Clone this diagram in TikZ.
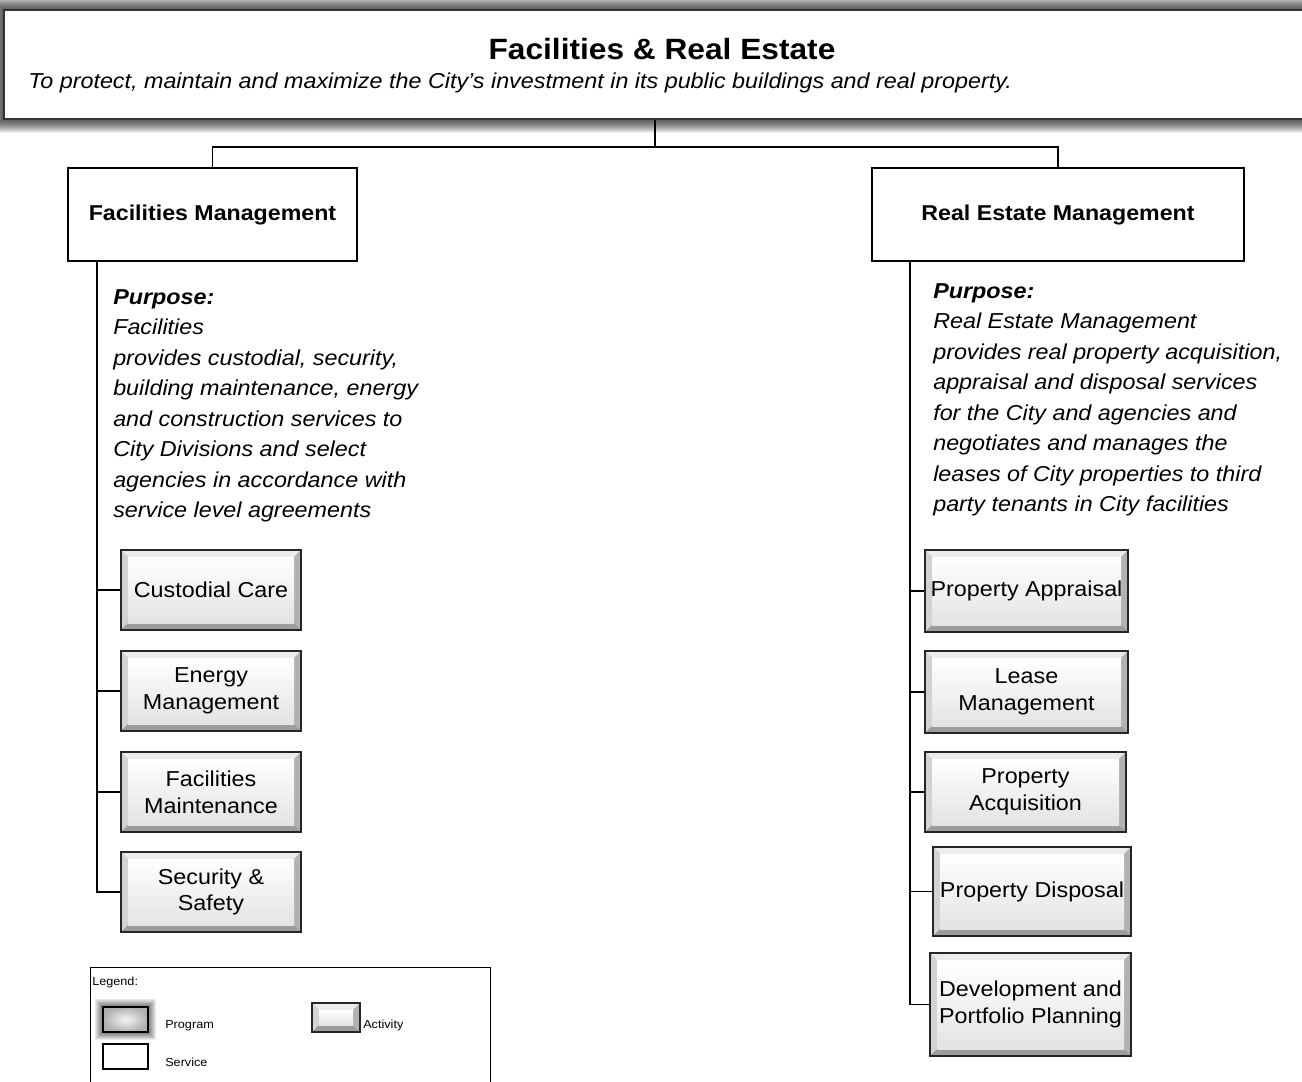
\documentclass[tikz,border=0pt]{standalone}
\usepackage{fontspec}
\setmainfont{Liberation Sans}[FakeStretch=1.08]
\usetikzlibrary{calc}
\begin{document}
\begin{tikzpicture}[x=0.75pt,y=-0.75pt,
  conn/.style={draw=black, line width=1.1pt},
  service/.style={draw=black, line width=0.8pt, fill=white, inner sep=0pt,
    font=\bfseries\fontsize{16.1}{19}\selectfont},
  activity/.style={draw=black!85, line width=1pt, inner sep=0pt, align=center,
    font=\fontsize{16.2}{20}\selectfont,
    path picture={
      \path (path picture bounding box.north west) coordinate (bnw)
            (path picture bounding box.north east) coordinate (bne)
            (path picture bounding box.south west) coordinate (bsw)
            (path picture bounding box.south east) coordinate (bse);
      \fill[gray!60] (bnw) rectangle (bse);
      \fill[gray!15] (bnw) -- (bne) -- ($(bne)+(-5.25pt,-5.25pt)$) -- ($(bnw)+(5.25pt,-5.25pt)$) -- cycle;
      \fill[gray!35] (bnw) -- ($(bnw)+(5.25pt,-5.25pt)$) -- ($(bsw)+(5.25pt,5.25pt)$) -- (bsw) -- cycle;
      \fill[gray!60] (bne) -- (bse) -- ($(bse)+(-5.25pt,5.25pt)$) -- ($(bne)+(-5.25pt,-5.25pt)$) -- cycle;
      \fill[gray!78] (bsw) -- (bse) -- ($(bse)+(-5.25pt,5.25pt)$) -- ($(bsw)+(5.25pt,5.25pt)$) -- cycle;
      \shade[top color=white, bottom color=gray!22] ($(bnw)+(5.25pt,-5.25pt)$) rectangle ($(bse)+(-5.25pt,5.25pt)$);
    }},
  purpose/.style={anchor=north west, inner sep=0pt, align=left,
    font=\itshape\fontsize{16.2}{22.9}\selectfont},
  legtext/.style={anchor=base west, inner sep=0pt, font=\fontsize{8.8}{10}\selectfont}
]
\useasboundingbox (0,0) rectangle (1302,1081);

% glow around the top box
\foreach \k in {1,...,14}
  \fill[black, opacity=0.07] ({4-\k},{10-\k}) rectangle (1340,{119+\k});
\node[draw=black!80, line width=1.5pt, fill=white, inner sep=0pt,
      minimum width=987pt, minimum height=81.75pt] (top) at (662,64.5) {};
\node[font=\bfseries\fontsize{22}{28}\selectfont, anchor=base, inner sep=0pt] (title) at (662,60) {Facilities \& Real Estate};
\node[font=\itshape\fontsize{16.2}{18}\selectfont, anchor=base west, inner sep=0pt] (sub) at (28,89)
  {To protect, maintain and maximize the City’s investment in its public buildings and real property.};

% services
\node[service, minimum width=216.75pt, minimum height=69.75pt] (fm) at (212.5,214.5) {Facilities Management};
\node[service, minimum width=279pt, minimum height=69.75pt] (rem) at (1058,214.5) {Real Estate Management};

\coordinate (hub) at (655,147);
\draw[conn, line width=1.5pt] (top.south -| hub) -- (hub);
\draw[conn] (fm.north) |- (hub) -| (rem.north);

% purposes
\node[purpose] (pl) at (113,289) {\textbf{Purpose:}\\Facilities\\provides custodial, security,\\building maintenance, energy\\and construction services to\\City Divisions and select\\agencies in accordance with\\service level agreements};
\node[purpose] (pr) at (933,283) {\textbf{Purpose:}\\Real Estate Management\\provides real property acquisition,\\appraisal and disposal services\\for the City and agencies and\\negotiates and manages the\\leases of City properties to third\\party tenants in City facilities};

% left activities
\node[activity, minimum width=135pt, minimum height=60pt] (cc) at (211,590) {Custodial Care};
\node[activity, minimum width=135pt, minimum height=60pt] (em) at (211,691) {Energy\\Management};
\node[activity, minimum width=135pt, minimum height=60pt] (fmt) at (211,792) {Facilities\\Maintenance};
\node[activity, minimum width=135pt, minimum height=60pt] (ss) at (211,892) {Security \&\\Safety};

% right activities
\node[activity, minimum width=152.25pt, minimum height=61.5pt] (pa) at (1026.5,591) {Property Appraisal};
\node[activity, minimum width=152.25pt, minimum height=61.5pt] (lm) at (1026.5,692) {Lease\\Management};
\node[activity, minimum width=150.75pt, minimum height=60pt] (pacq) at (1025.5,792) {Property\\Acquisition};
\node[activity, minimum width=148.5pt, minimum height=66.75pt] (pd) at (1032,891.5) {Property Disposal};
\node[activity, minimum width=150.75pt, minimum height=77.25pt] (dp) at (1030.5,1004.5) {Development and\\Portfolio Planning};

\coordinate (ls) at (97,261);
\coordinate (rs) at (910,261);
\foreach \n in {cc,em,fmt,ss} \draw[conn] (ls) |- (\n.west);
\foreach \n in {pa,lm,pacq,pd,dp} \draw[conn] (rs) |- (\n.west);

% legend
\node[draw=black, line width=0.8pt, fill=white, anchor=north west, inner sep=0pt,
      minimum width=300pt, minimum height=97.5pt] (legend) at (90,967) {};
\node[legtext] (legt) at (92,985) {Legend:};
\foreach \k in {1,...,8}
  \fill[black, opacity=0.08] ({103-\k},{1007-\k}) rectangle ({148+\k},{1032+\k});
\node[draw=black, line width=0.9pt, inner sep=0pt, minimum width=33.75pt, minimum height=18.75pt,
      inner color=gray!8, outer color=gray!62] (prog) at (125.5,1019.5) {};
\node[legtext] (progt) at (165,1028) {Program};
\node[activity, minimum width=36pt, minimum height=21.75pt] (act) at (336,1017.5) {};
\node[legtext] (actt) at (363,1028) {Activity};
\node[draw=black, line width=0.9pt, fill=white, inner sep=0pt, minimum width=33.75pt, minimum height=18.75pt] (serv) at (125.5,1056.5) {};
\node[legtext] (servt) at (165,1066) {Service};
\end{tikzpicture}
\end{document}
